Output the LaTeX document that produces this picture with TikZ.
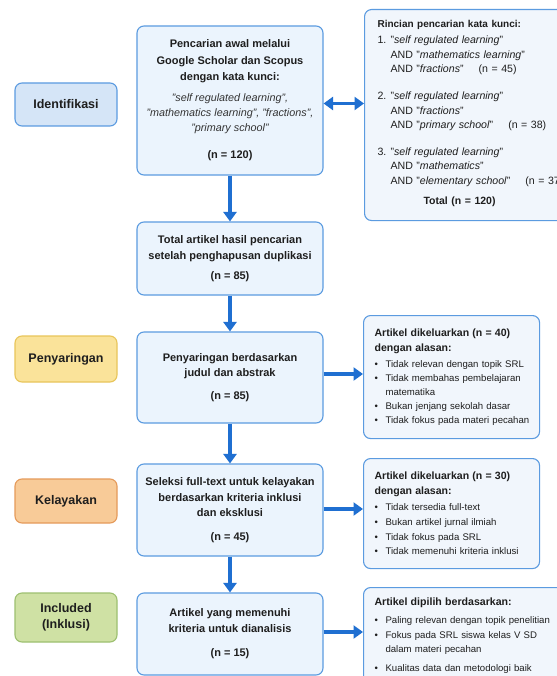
\documentclass[tikz,border=0pt]{standalone}
\usepackage{fontspec}
\setmainfont{Liberation Sans}
\usetikzlibrary{arrows.meta}
\definecolor{bord}{HTML}{5B9BE0}
\definecolor{mainfill}{HTML}{EBF4FD}
\definecolor{sidefill}{HTML}{F1F6FC}
\definecolor{idfill}{HTML}{D5E5F7}
\definecolor{penyfill}{HTML}{FAE39A}
\definecolor{penybord}{HTML}{E8C55A}
\definecolor{kelfill}{HTML}{F8CB98}
\definecolor{kelbord}{HTML}{E59A5A}
\definecolor{incfill}{HTML}{CFE1A4}
\definecolor{incbord}{HTML}{9DC070}
\definecolor{arrowc}{HTML}{1F6FD1}
\definecolor{txt}{HTML}{1E1E1E}
\definecolor{txtb}{HTML}{333333}
\newcommand{\kwline}[1]{{\mdseries\itshape\color{txtb}\fontsize{10.8}{15}\selectfont #1}}
\newcommand{\bul}[1]{\mbox{\makebox[11pt][l]{\textbullet}#1}}
\begin{document}
\begin{tikzpicture}[x=1pt,y=-1pt,
  mainbox/.style={draw=bord, fill=mainfill, line width=1.1pt, rounded corners=7pt,
    minimum width=186pt, align=center, text=txt, inner sep=0pt,
    font=\bfseries\fontsize{11}{16.2}\selectfont},
  labelbox/.style={line width=1.1pt, rounded corners=7pt, minimum width=102pt,
    align=center, text=txt, inner sep=0pt, font=\bfseries\fontsize{12.5}{15.5}\selectfont},
  sidebox/.style={draw=bord, fill=sidefill, line width=1.1pt, rounded corners=7pt,
    align=left, text=txt, inner xsep=11pt, inner ysep=0pt, anchor=north west},
  flow/.style={draw=arrowc, line width=3.8pt, -{Triangle[width=13pt,length=9.5pt]}},
  flow2/.style={draw=arrowc, line width=3.8pt, {Triangle[width=13pt,length=9.5pt]}-{Triangle[width=13pt,length=9.5pt]}}
]
\useasboundingbox[fill=white] (0,0) rectangle (556,676);

% phase labels
\node[labelbox, draw=bord, fill=idfill, minimum height=43pt] (lid) at (66,104.5) {Identifikasi};
\node[labelbox, draw=penybord, fill=penyfill, minimum height=46pt] (lpe) at (66,359) {Penyaringan};
\node[labelbox, draw=kelbord, fill=kelfill, minimum height=44pt] (lke) at (66,501) {Kelayakan};
\node[labelbox, draw=incbord, fill=incfill, minimum height=49pt] (lin) at (66,617.5) {Included\\(Inklusi)};

% main boxes
\node[mainbox, minimum height=149pt] (b1) at (230,100.5) {Pencarian awal melalui\\Google Scholar dan Scopus\\dengan kata kunci:\\[5.4pt]
\kwline{"self regulated learning",}\\[-1.2pt]
\kwline{"mathematics learning", "fractions",}\\[-1.2pt]
\kwline{"primary school"}\\[10.8pt]
(n = 120)};
\node[mainbox, minimum height=73pt] (b2) at (230,258.5) {Total artikel hasil pencarian\\[-0.2pt]setelah penghapusan duplikasi\\[4pt](n = 85)};
\node[mainbox, minimum height=91pt] (b3) at (230,377.5) {Penyaringan berdasarkan\\[-1pt]judul dan abstrak\\[7pt](n = 85)};
\node[mainbox, minimum height=92pt] (b4) at (230,510) {Seleksi full-text untuk kelayakan\\[-0.2pt]berdasarkan kriteria inklusi\\[-1pt]dan eksklusi\\[8pt](n = 45)};
\node[mainbox, minimum height=82pt] (b5) at (230,634) {Artikel yang memenuhi\\[-0.2pt]kriteria untuk dianalisis\\[8pt](n = 15)};

% side boxes
\node[sidebox, inner xsep=13pt, text width=189pt, minimum height=211pt,
  font=\fontsize{10.6}{14.5}\selectfont] (r1) at (364,9) {%
\mbox{}\\[-10pt]
\mbox{\bfseries\fontsize{10}{14.5}\selectfont Rincian pencarian kata kunci:}\\[1.5pt]
\mbox{\makebox[13pt][l]{1.}"\textit{self regulated learning}"}\\
\mbox{\hspace*{13pt}AND "\textit{mathematics learning}"}\\
\mbox{\hspace*{13pt}AND "\textit{fractions}"\hspace{15pt}(n = 45)}\\[12.5pt]
\mbox{\makebox[13pt][l]{2.}"\textit{self regulated learning}"}\\
\mbox{\hspace*{13pt}AND "\textit{fractions}"}\\
\mbox{\hspace*{13pt}AND "\textit{primary school}"\hspace{15pt}(n = 38)}\\[12pt]
\mbox{\makebox[13pt][l]{3.}"\textit{self regulated learning}"}\\
\mbox{\hspace*{13pt}AND "\textit{mathematics}"}\\
\mbox{\hspace*{13pt}AND "\textit{elementary school}"\hspace{15pt}(n = 37)}\\[5.5pt]
\mbox{\hspace*{46pt}\bfseries\fontsize{10.5}{14.5}\selectfont Total (n = 120)}};

\node[sidebox, text width=154pt, minimum height=123pt,
  font=\fontsize{9.6}{14}\selectfont] (r2) at (363,315) {%
\mbox{\bfseries\fontsize{10.55}{14}\selectfont Artikel dikeluarkan (n = 40)}\\[1pt]
\mbox{\bfseries\fontsize{10.55}{14}\selectfont dengan alasan:}\\[2pt]
\bul{Tidak relevan dengan topik SRL}\\
\bul{Tidak membahas pembelajaran}\\
\mbox{\hspace*{11pt}matematika}\\
\bul{Bukan jenjang sekolah dasar}\\
\bul{Tidak fokus pada materi pecahan}};

\node[sidebox, text width=154pt, minimum height=110pt,
  font=\fontsize{9.6}{14}\selectfont] (r3) at (363,458) {%
\mbox{\bfseries\fontsize{10.55}{14}\selectfont Artikel dikeluarkan (n = 30)}\\[1pt]
\mbox{\bfseries\fontsize{10.55}{14}\selectfont dengan alasan:}\\[2pt]
\bul{Tidak tersedia full-text}\\[0.7pt]
\bul{Bukan artikel jurnal ilmiah}\\[0.7pt]
\bul{Tidak fokus pada SRL}\\[0.7pt]
\bul{Tidak memenuhi kriteria inklusi}};

\node[sidebox, text width=190pt, minimum height=97pt,
  font=\fontsize{9.6}{14}\selectfont] (r4) at (363,587) {%
\mbox{\bfseries\fontsize{10.6}{14}\selectfont Artikel dipilih berdasarkan:}\\[4pt]
\bul{Paling relevan dengan topik penelitian}\\[1pt]
\bul{Fokus pada SRL siswa kelas V SD}\\
\mbox{\hspace*{11pt}dalam materi pecahan}\\[5pt]
\bul{Kualitas data dan metodologi baik}};

% connectors
\draw[flow] (b1) -- (b2);
\draw[flow] (b2) -- (b3);
\draw[flow] (b3) -- (b4);
\draw[flow] (b4) -- (b5);
\draw[flow2] ([yshift=-3pt]b1.east) -- ([yshift=-3pt]b1.east -| r1.west);
\draw[flow] ([yshift=3.5pt]b3.east) -- ([yshift=3.5pt]b3.east -| r2.west);
\draw[flow] ([yshift=1pt]b4.east) -- ([yshift=1pt]b4.east -| r3.west);
\draw[flow] ([yshift=2pt]b5.east) -- ([yshift=2pt]b5.east -| r4.west);
\end{tikzpicture}
\end{document}
